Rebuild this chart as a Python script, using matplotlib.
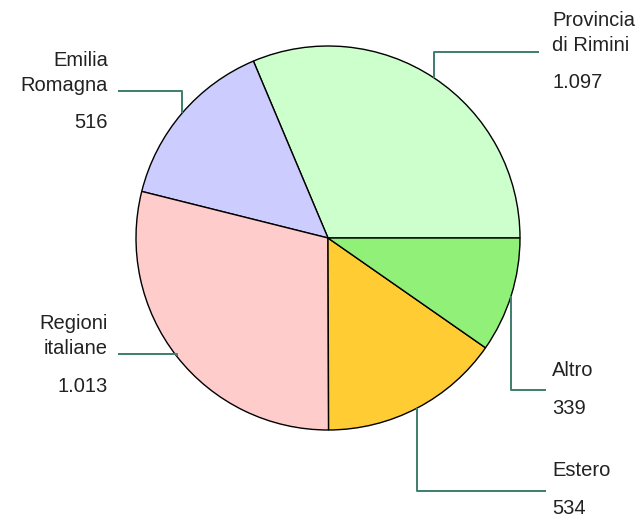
import numpy as np
import matplotlib
matplotlib.use("Agg")
import matplotlib.pyplot as plt

# data
labels = ["Provincia\ndi Rimini", "Emilia\nRomagna", "Regioni\nitaliane", "Estero", "Altro"]
values = [1097, 516, 1013, 534, 339]
value_text = ["1.097", "516", "1.013", "534", "339"]
colors = ["#ccffcc", "#ccccff", "#ffcccc", "#ffcc33", "#90f078"]

W, H = 643, 515
CX, CY, R = 328, H - 238, 192
LINE_COLOR = "#3d7d6c"
FS = 14.5

# layout of the callouts (pixel coords from top): horizontal level, line end x,
# text x, name y, value y, alignment
callouts = [
    dict(level=52, end=539, tx=552, ny=33, vy=83, ha="left"),
    dict(level=91, end=118, tx=108, ny=73, vy=123, ha="right"),
    dict(level=354, end=118, tx=108, ny=336, vy=387, ha="right"),
    dict(level=491, end=546, tx=552, ny=471, vy=508, ha="left"),
    dict(level=390, end=546, tx=552, ny=371, vy=408, ha="left"),
]

fig = plt.figure(figsize=(W / 100, H / 100), dpi=100)
ax = fig.add_axes([0, 0, 1, 1])

wedges, _ = ax.pie(values, colors=colors, startangle=0, counterclock=True,
                   center=(CX, CY), radius=R,
                   wedgeprops=dict(edgecolor="black", linewidth=1.0))

for w, c, name, val in zip(wedges, callouts, labels, value_text):
    mid = np.deg2rad((w.theta1 + w.theta2) / 2)
    x0 = CX + R * np.cos(mid)
    y0 = CY + R * np.sin(mid)
    lvl = H - c["level"]
    ax.plot([x0, x0, c["end"]], [y0, lvl, lvl], color=LINE_COLOR, lw=1.4,
            solid_capstyle="butt", zorder=1)
    ax.text(c["tx"], H - c["ny"], name, ha=c["ha"], va="center", fontsize=FS,
            family="Liberation Sans", color="#222222", linespacing=1.42)
    ax.text(c["tx"], H - c["vy"], val, ha=c["ha"], va="center", fontsize=FS,
            family="Liberation Sans", color="#222222")

ax.set_xlim(0, W)
ax.set_ylim(0, H)
ax.set_aspect("equal", adjustable="box")
ax.axis("off")

fig.savefig("out.png", dpi=100, facecolor="white")
